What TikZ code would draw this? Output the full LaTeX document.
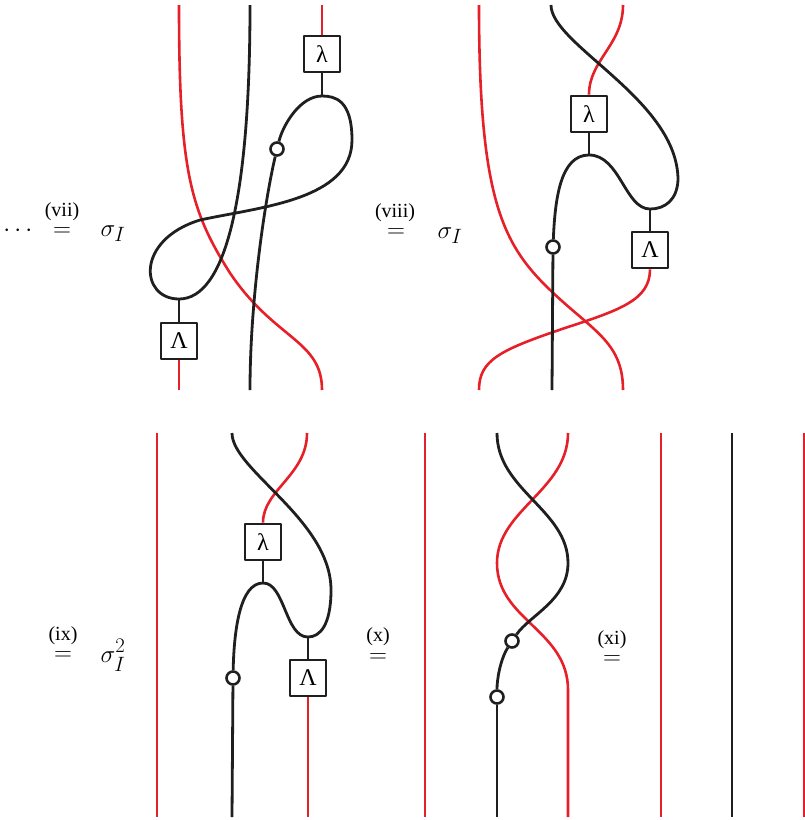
\documentclass[tikz,border=0pt]{standalone}
\usepackage{amsmath}
\usepackage{fontspec}
\setmainfont{Liberation Serif}
\usetikzlibrary{calc}
\definecolor{strandred}{RGB}{230,32,40}
\tikzset{
  every picture/.append style={line join=round},
  braid red/.style={strandred,line width=2.6pt},
  braid black/.style={black!88,line width=2.8pt},
  braid box/.style={draw=black!88,line width=2.8pt,fill=white,minimum size=36pt,inner sep=0pt,font=\fontsize{24}{28}\selectfont},
  braid dot/.style={circle,draw=black!88,line width=2.6pt,fill=white,minimum size=13pt,inner sep=0pt},
  braid label/.style={font=\fontsize{28}{32}\selectfont,anchor=base,inner sep=0pt},
  braid eq/.style={font=\fontsize{26}{30}\selectfont,anchor=base,inner sep=0pt},
  braid step label/.style={font=\fontsize{20}{22}\selectfont,anchor=base,inner sep=0pt}
}

\begin{document}
\begin{tikzpicture}[x=1pt, y=-1pt]
  \useasboundingbox (0,0) rectangle (804,820);
  % labels
  \node[braid eq] (dots) at (20,236) {$\cdots$};
  \node[braid eq] (eqvii) at (62,236) {$=$};
  \node[braid step label] (stvii) at (62,216) {(vii)};
  \node[braid label] (sigA) at (113,236) {$\sigma_I$};
  \node[braid eq] (eqviii) at (396,237) {$=$};
  \node[braid step label] (stviii) at (395,217) {(viii)};
  \node[braid label] (sigB) at (450,238) {$\sigma_I$};
  \node[braid eq] (eqix) at (63,660) {$=$};
  \node[braid step label] (stix) at (63,640) {(ix)};
  \node[braid label] (sigC) at (113,662) {$\sigma_I^2$};
  \node[braid eq] (eqx) at (378,662) {$=$};
  \node[braid step label] (stx) at (378,641) {(x)};
  \node[braid eq] (eqxi) at (612,664) {$=$};
  \node[braid step label] (stxi) at (612,644) {(xi)};

  % first picture
  \node[braid box] (lamA) at (322,54) {λ};
  \node[braid box] (LamA) at (179,341) {Λ};
  \node[braid dot] (dotA) at (277,149) {};
  \coordinate (jA1) at (179,299);
  \coordinate (jA2) at (322,96);
  \draw[braid red] (179,5) .. controls (179,170) and (190,210) .. (230,273) .. controls (275,340) and (322,340) .. (322,390);
  \draw[braid red] (322,5) -- (lamA.north);
  \draw[braid red] (LamA.south) -- (179,390);
  \draw[braid black] (250,5) .. controls (250,200) and (225,299) .. (jA1) .. controls (140,299) and (135,240) .. (200,220) .. controls (260,207) and (352,200) .. (352,140) .. controls (352,100) and (335,96) .. (jA2);
  \draw[braid black] (jA2) .. controls (300,96) and (283,125) .. (dotA);
  \draw[braid black] (dotA) .. controls (265,200) and (250,300) .. (250,390);
  \draw[braid black] (LamA.north) -- (jA1);
  \draw[braid black] (lamA.south) -- (jA2);

  % second picture
  \node[braid box] (lamB) at (589,114) {λ};
  \node[braid box] (LamB) at (650,250) {Λ};
  \node[braid dot] (dotB) at (553,247) {};
  \coordinate (jB1) at (650,209);
  \coordinate (jB2) at (589,155);
  \draw[braid red] (479,5) .. controls (479,190) and (500,240) .. (545,285) .. controls (590,330) and (623,340) .. (623,390);
  \draw[braid red] (lamB.north) .. controls (589,60) and (623,45) .. (623,5);
  \draw[braid red] (LamB.south) .. controls (650,300) and (620,310) .. (565,328) .. controls (500,350) and (479,360) .. (479,390);
  \draw[braid black] (551,5) .. controls (551,45) and (678,100) .. (678,180) .. controls (677,200) and (665,209) .. (jB1) .. controls (625,209) and (620,155) .. (jB2) .. controls (560,155) and (555,200) .. (dotB);
  \draw[braid black] (dotB) -- (552,390);
  \draw[braid black] (lamB.south) -- (jB2);
  \draw[braid black] (jB1) -- (LamB.north);

  % third picture
  \node[braid box] (lamC) at (263,542) {λ};
  \node[braid box] (LamC) at (308,678) {Λ};
  \node[braid dot] (dotC) at (233,678) {};
  \coordinate (jC1) at (308,637);
  \coordinate (jC2) at (263,583);
  \draw[braid red] (157,433) -- (157,817);
  \draw[braid red] (lamC.north) .. controls (263,490) and (307,475) .. (307,433);
  \draw[braid red] (LamC.south) -- (308,817);
  \draw[braid black] (232,433) .. controls (232,470) and (331,520) .. (331,590) .. controls (331,625) and (320,637) .. (jC1) .. controls (285,637) and (285,583) .. (jC2) .. controls (240,583) and (234,630) .. (dotC);
  \draw[braid black] (dotC) -- (232,817);
  \draw[braid black] (lamC.south) -- (jC2);
  \draw[braid black] (jC1) -- (LamC.north);

  % fourth picture
  \node[braid dot] (dotD) at (512,641) {};
  \node[braid dot] (dotE) at (497,697) {};
  \draw[braid red] (425,433) -- (425,817);
  \draw[braid red] (568,433) .. controls (568,490) and (497,510) .. (497,563) .. controls (497,620) and (568,630) .. (568,690) -- (568,817);
  \draw[braid black] (497,433) .. controls (497,490) and (568,510) .. (568,563) .. controls (568,600) and (530,615) .. (dotD);
  \draw[braid black] (dotD) .. controls (500,660) and (497,680) .. (dotE);
  \draw[braid black] (dotE) -- (497,817);

  % last picture
  \draw[braid red] (661,433) -- (661,817);
  \draw[braid black] (732,433) -- (732,817);
  \draw[braid red] (804,433) -- (804,817);
\end{tikzpicture}
\end{document}
